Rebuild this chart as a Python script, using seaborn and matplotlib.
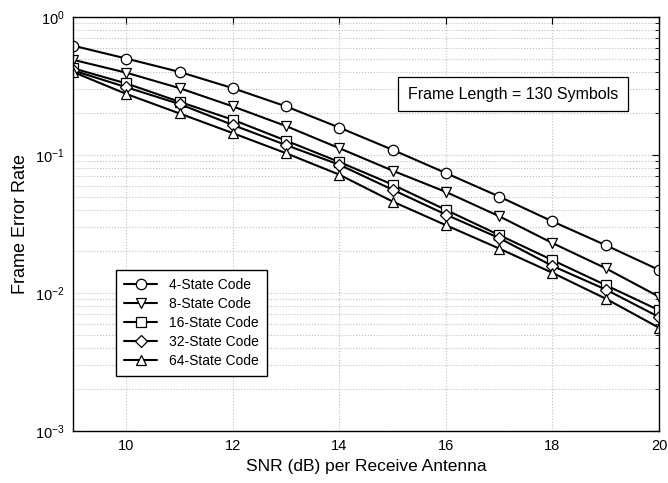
import numpy as np
import pandas as pd
import matplotlib
matplotlib.use('Agg')
import matplotlib.pyplot as plt
import seaborn as sns
from matplotlib.ticker import LogLocator, NullFormatter

# данные
snr = [9, 10, 11, 12, 13, 14, 15, 16, 17, 18, 19, 20]
fer_4 = [0.62, 0.50, 0.40, 0.305, 0.225, 0.158, 0.109, 0.074, 0.050, 0.033, 0.0222, 0.0147]
fer_8 = [0.49, 0.395, 0.305, 0.225, 0.162, 0.112, 0.077, 0.054, 0.036, 0.023, 0.0151, 0.0094]
fer_16 = [0.425, 0.33, 0.243, 0.18, 0.127, 0.089, 0.061, 0.040, 0.0263, 0.0173, 0.0114, 0.0075]
fer_32 = [0.41, 0.31, 0.234, 0.165, 0.118, 0.085, 0.056, 0.037, 0.025, 0.0157, 0.0106, 0.0067]
fer_64 = [0.40, 0.277, 0.20, 0.144, 0.103, 0.072, 0.046, 0.031, 0.021, 0.014, 0.0091, 0.0056]
names = ['4-State Code', '8-State Code', '16-State Code', '32-State Code', '64-State Code']
markers = ['o', 'v', 's', 'D', '^']

sns.set_style('white')
plt.rcParams['font.family'] = ['Liberation Sans', 'DejaVu Sans']
plt.rcParams['text.color'] = 'black'
plt.rcParams['axes.labelcolor'] = 'black'
plt.rcParams['xtick.color'] = 'black'
plt.rcParams['ytick.color'] = 'black'

fig = plt.figure(figsize=(6.68, 4.83), dpi=100)
ax = fig.add_axes([73 / 668, 1 - 431 / 483, 586 / 668, 414 / 483])

for vals, name, m in zip([fer_4, fer_8, fer_16, fer_32, fer_64], names, markers):
    sns.lineplot(x=snr, y=vals, ax=ax, color='black', linewidth=1.5,
                 marker=m, markersize=7.5 if m != 'D' else 6.5, markerfacecolor='white',
                 markeredgecolor='black', markeredgewidth=0.9, label=name)

ax.set_yscale('log')
ax.set_xlim(9, 20)
ax.set_ylim(1e-3, 1)
ax.set_xticks([10, 12, 14, 16, 18, 20])
ax.yaxis.set_major_locator(LogLocator(base=10, numticks=10))
ax.yaxis.set_minor_locator(LogLocator(base=10, subs=np.arange(2, 10), numticks=10))
ax.yaxis.set_minor_formatter(NullFormatter())
ax.grid(True, which='major', color='#bdbdbd', linestyle=':', linewidth=0.8)
ax.grid(True, which='minor', axis='y', color='#bdbdbd', linestyle=':', linewidth=0.8)
ax.tick_params(which='both', direction='in', top=True, right=True, labelsize=10.5)
ax.tick_params(which='major', length=5, pad=6)
ax.tick_params(which='minor', length=3)
for s in ax.spines.values():
    s.set_color('black')
    s.set_linewidth(1.0)

ax.set_xlabel('SNR (dB) per Receive Antenna', fontsize=12.5)
ax.set_ylabel('Frame Error Rate', fontsize=13)

leg = ax.legend(loc='upper left', bbox_to_anchor=(0.073, 0.389), fontsize=10,
                frameon=True, fancybox=False, edgecolor='black', framealpha=1,
                handlelength=2.4, labelspacing=0.35, borderpad=0.6, borderaxespad=0)
leg.get_frame().set_linewidth(1.0)

ax.text(0.751, 0.814, 'Frame Length = 130 Symbols', transform=ax.transAxes,
        ha='center', va='center', fontsize=11.5,
        bbox=dict(boxstyle='square,pad=0.6', facecolor='white', edgecolor='black', linewidth=0.9))

fig.savefig('out.png', dpi=100)
